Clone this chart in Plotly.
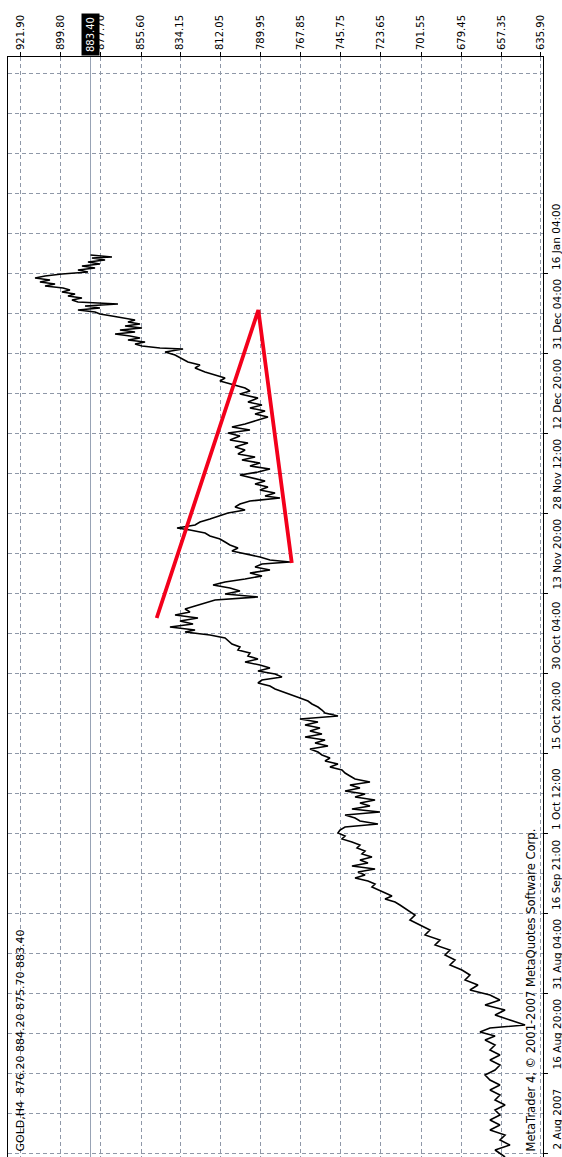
import plotly.graph_objects as go

# GOLD H4 closes: bar number (0 = 2 Aug 2007 label bar) and close price
bars = [-4, 3, 8, 13, 18, 23, 28, 33, 38, 43, 48, 53, 58, 63, 68, 73, 78, 83, 88, 93,
        98, 103, 108, 113, 117, 121, 125, 128, 133, 138, 143, 148, 153, 158, 163, 168,
        173, 178, 183, 188, 193, 198, 203, 208, 213, 218, 223, 228, 233, 238, 243, 248,
        251, 254, 257, 260, 263, 266, 269, 272, 275, 278, 281, 284, 287, 290, 293, 296,
        299, 302, 305, 308, 311, 314, 317, 320, 323, 326, 329, 332, 335, 338, 341, 344,
        347, 350, 353, 356, 359, 362, 365, 368, 371, 374, 377, 380, 383, 386, 389, 392,
        395, 398, 401, 404, 407, 410, 413, 416, 419, 422, 425, 428, 431, 434, 437, 440,
        443, 446, 449, 452, 455, 458, 461, 464, 467, 470, 473, 476, 479, 482, 485, 488,
        491, 494, 497, 500, 503, 506, 509, 512, 515, 518, 521, 523, 526, 529, 532, 535,
        538, 541, 544, 547, 550, 553, 556, 559, 562, 565, 568, 571, 574, 577, 580, 583,
        586, 589, 591, 593, 596, 599, 602, 605, 608, 611, 614, 617, 620, 623, 625, 628,
        631, 634, 637, 640, 643, 646, 649, 652, 655, 657, 660, 663, 666, 669, 672, 675,
        678, 681, 684, 687, 690, 693, 696, 699, 703, 706, 710, 713, 717, 720, 723, 726,
        729, 733, 736, 739, 742, 745, 748, 751, 755, 759, 762, 765, 769, 772, 775, 778,
        781, 785, 788, 791, 795, 798, 801, 804, 805, 807, 809, 811, 813, 815, 817, 819,
        821, 823, 825, 827, 829, 831, 833, 835, 837, 839, 841, 843, 845, 847, 849, 851,
        853, 855, 857, 859, 861, 863, 865, 867, 869, 871, 873, 875, 877, 879, 881, 883,
        885, 887, 889, 891, 893, 895, 896, 898]
close = [655.4, 660.9, 652.7, 658.2, 655.4, 663.7, 658.2, 663.7, 658.2, 660.9, 655.4, 660.9,
         658.2, 663.7, 658.2, 663.7, 666.4, 660.9, 658.2, 663.7, 658.2, 663.7, 660.9, 666.4,
         660.9, 669.2, 663.7, 644.4, 652.7, 660.9, 655.4, 666.4, 658.2, 663.7, 674.7, 670.3,
         677.4, 674.7, 679.1, 685.7, 682.9, 688.4, 685.7, 693.9, 691.2, 699.4, 696.7, 702.2,
         707.7, 704.9, 708.8, 713.2, 715.9, 721.4, 717.6, 721.4, 724.2, 728.6, 726.9, 730.8,
         737.9, 732.4, 736.3, 726.9, 739.6, 730.8, 735.2, 728.6, 734.1, 732.4, 736.8, 735.2,
         739.6, 745.1, 743.4, 747.3, 746.2, 743.4, 725.3, 735.2, 737.9, 743.4, 724.2, 739.6,
         729.7, 735.2, 726.9, 737.9, 732.4, 743.4, 735.2, 740.7, 729.7, 737.9, 740.7, 743.4,
         745.1, 751.7, 747.3, 754.4, 751.7, 756.1, 758.3, 762.7, 752.8, 759.9, 754.4, 765.4,
         756.1, 762.7, 757.2, 765.4, 758.3, 768.2, 747.3, 754.4, 756.1, 758.3, 761.6, 763.8,
         768.2, 772.6, 776.4, 781.9, 784.7, 791.3, 789.1, 778.1, 781.9, 791.3, 784.7, 790.2,
         798.4, 791.3, 796.8, 795.7, 802.3, 801.2, 805.6, 807.8, 809.4, 817.7, 831.4, 825.9,
         839.7, 827.0, 834.2, 824.3, 836.9, 828.7, 831.4, 825.9, 820.4, 814.9, 791.3, 809.4,
         801.2, 806.7, 816.0, 809.4, 798.4, 789.1, 795.7, 784.7, 792.9, 789.1, 773.7, 784.7,
         790.2, 798.4, 805.6, 802.3, 806.7, 809.4, 812.2, 817.7, 820.4, 828.7, 835.8, 825.9,
         823.2, 817.7, 812.2, 807.8, 798.4, 803.9, 801.2, 795.7, 779.2, 787.4, 781.9, 790.2,
         785.8, 792.9, 787.4, 794.6, 801.2, 791.3, 784.7, 795.7, 790.2, 800.1, 792.9, 802.3,
         798.4, 803.9, 796.8, 806.7, 801.2, 807.8, 795.7, 805.6, 798.4, 791.3, 785.8, 792.9,
         787.4, 795.7, 789.1, 796.8, 791.3, 801.2, 795.7, 798.4, 805.6, 812.2, 809.4, 814.9,
         820.4, 825.9, 823.2, 829.8, 834.2, 836.9, 842.4, 832.5, 845.2, 855.1, 858.9, 853.4,
         862.8, 856.2, 861.7, 869.9, 858.9, 867.2, 855.1, 864.4, 856.2, 862.8, 858.9, 864.4,
         871.6, 878.2, 880.9, 890.3, 878.2, 886.4, 868.3, 890.3, 893.6, 888.1, 895.8, 891.9,
         899.1, 894.7, 898.5, 908.4, 902.9, 911.2, 905.7, 913.9, 908.4, 899.1, 884.8, 890.3,
         880.9, 888.1, 878.2, 884.8, 875.4, 882.6, 871.6, 883.4]

# Price scale labels
price_ticks = [921.90, 899.80, 877.70, 855.60, 834.15, 812.05, 789.95, 767.85,
               745.75, 723.65, 701.55, 679.45, 657.35, 635.90]

# Time scale labels and the bars they mark
time_bars = [0, 80, 160, 240, 320, 400, 480, 560, 640, 720, 800, 880]
time_labels = ["2 Aug 2007", "16 Aug 20:00", "31 Aug 04:00", "16 Sep 21:00",
               "1 Oct 12:00", "15 Oct 20:00", "30 Oct 04:00", "13 Nov 20:00",
               "28 Nov 12:00", "12 Dec 20:00", "31 Dec 04:00", "16 Jan 04:00"]

# Last bar: open, high, low, close
last_ohlc = [876.20, 884.20, 875.70, 883.40]

# Hand-drawn red trend lines (anchor bar, anchor price)
trend_bars = [535, 843, 590]
trend_prices = [847.0, 791.1, 772.7]

FONT = "DejaVu Sans"
GRID = "#8f98a8"
GRID_DASH = "4px,3px"

fig = go.Figure()

fig.add_trace(go.Scatter(
    x=close, y=bars, mode="lines",
    line=dict(color="black", width=1.6),
    hoverinfo="skip", showlegend=False,
))

fig.add_trace(go.Scatter(
    x=trend_prices, y=trend_bars, mode="lines",
    line=dict(color="#f3001b", width=3.8),
    hoverinfo="skip", showlegend=False,
))

# current price line
fig.add_shape(
    type="line", xref="x", yref="paper",
    x0=last_ohlc[3], x1=last_ohlc[3], y0=0, y1=1,
    line=dict(color="#98a3b5", width=1), layer="between",
)

# current price marker on the price scale
fig.add_annotation(
    x=last_ohlc[3], xref="x", y=1, yref="paper",
    xanchor="center", yanchor="bottom", yshift=1,
    text=f"{last_ohlc[3]:.2f}", textangle=-90, showarrow=False,
    font=dict(family=FONT, size=10, color="white"),
    bgcolor="black", borderpad=3,
)

# time scale labels
for b, lab in zip(time_bars, time_labels):
    fig.add_annotation(
        x=1, xref="paper", xanchor="left", xshift=5,
        y=b, yref="y", yanchor="bottom", yshift=1,
        text=lab, textangle=-90, showarrow=False,
        font=dict(family=FONT, size=10.5, color="black"),
    )

# symbol / OHLC header
fig.add_annotation(
    x=0, xref="paper", xanchor="left", xshift=3,
    y=0, yref="paper", yanchor="bottom", yshift=3,
    text="GOLD,H4  " + " ".join(f"{v:.2f}" for v in last_ohlc),
    textangle=-90, showarrow=False,
    font=dict(family=FONT, size=11, color="black"),
)

# copyright line
fig.add_annotation(
    x=1, xref="paper", xanchor="right", xshift=-4,
    y=0, yref="paper", yanchor="bottom", yshift=3,
    text="MetaTrader 4, © 2001-2007 MetaQuotes Software Corp.",
    textangle=-90, showarrow=False,
    font=dict(family=FONT, size=11.5, color="black"),
)

fig.update_xaxes(
    range=[928.78, 634.53], side="top",
    tickvals=price_ticks, ticktext=[f"{v:.2f}" for v in price_ticks],
    tickangle=-90, ticks="outside", ticklen=4, tickcolor="black",
    tickfont=dict(family=FONT, size=10, color="black"),
    showline=True, linecolor="black", linewidth=1,
    showgrid=True, gridcolor=GRID, griddash=GRID_DASH, gridwidth=1,
    zeroline=False, fixedrange=True,
)

fig.update_yaxes(
    range=[-4, 1096], side="right",
    tickvals=time_bars, showticklabels=False,
    ticks="outside", ticklen=4, tickcolor="black",
    showline=True, mirror=True, linecolor="black", linewidth=1,
    showgrid=True, gridcolor=GRID, griddash=GRID_DASH, gridwidth=1,
    minor=dict(tickvals=[b + 40 for b in time_bars] + [960, 1000, 1040, 1080],
               showgrid=True, gridcolor=GRID, griddash=GRID_DASH, gridwidth=1,
               ticks=""),
    zeroline=False, fixedrange=True,
)

fig.update_layout(
    width=562, height=1157, autosize=False,
    margin=dict(l=8, r=19, t=57, b=0),
    paper_bgcolor="white", plot_bgcolor="white",
    showlegend=False,
)

fig.write_html("out.html", config={"displayModeBar": False})
